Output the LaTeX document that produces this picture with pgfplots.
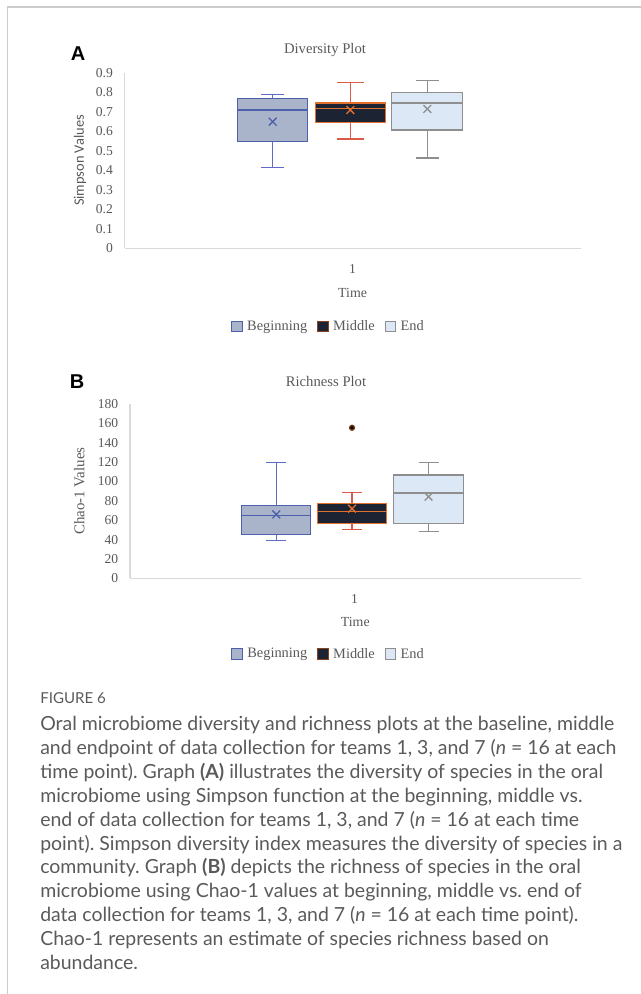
\documentclass[border=0pt]{standalone}
\usepackage{fontspec}
\usepackage{pgfplots}
\pgfplotsset{compat=1.18}
\usepgfplotslibrary{statistics}
\setmainfont{Liberation Serif}
\newfontfamily\capfont{Lato}
\newfontfamily\labsans{Carlito}
\newfontfamily\panelfont{Liberation Sans}
\definecolor{txt}{HTML}{595959}
\definecolor{capgray}{HTML}{5A5A5A}
\definecolor{framegray}{HTML}{CCCCCC}
\definecolor{axgray}{HTML}{D9D9D9}
\definecolor{begFill}{HTML}{A9B4CA}
\definecolor{begEdge}{HTML}{4C60AC}
\definecolor{begWh}{HTML}{5E6CC8}
\definecolor{midFill}{HTML}{1C2433}
\definecolor{midEdge}{HTML}{E2702E}
\definecolor{midWh}{HTML}{DC5A48}
\definecolor{endFill}{HTML}{DDE8F6}
\definecolor{endEdge}{HTML}{8E8E8E}
\pgfplotsset{
  sqlegend/.style={legend image code/.code={\draw[##1, line width=0.6pt] (0pt,-3.9pt) rectangle (7.8pt,3.9pt);}},
  common/.style={
    scale only axis,
    boxplot/draw direction=y,
    axis x line=bottom, axis y line=left,
    axis line style={-, draw=axgray, line width=0.8pt},
    xmin=0, ymin=0,
    major tick length=0pt,
    tick label style={font=\fontsize{10.2}{12}\selectfont, text=txt},
    /pgf/number format/assume math mode=true,
    yticklabel style={xshift=-5.3pt},
    xticklabel style={yshift=-8.5pt},
    xticklabels={1},
    sqlegend,
    legend columns=-1,
    legend style={draw=none, fill=none, anchor=center,
      font=\color{txt}\fontsize{10.8}{12}\selectfont,
      /tikz/every odd column/.append style={column sep=1.5pt},
      /tikz/every even column/.append style={column sep=5.5pt}},
  },
}
\frenchspacing
\begin{document}
\begin{tikzpicture}
\begin{scope}[x=0.75pt, y=-0.75pt]
\useasboundingbox (0,0) rectangle (641,994);
% frame
\draw[framegray, line width=0.9pt] (641,7) -- (7.5,7) -- (7.5,994);
% panel labels and titles
\node[font=\panelfont\bfseries\fontsize{15}{17}\selectfont] at (78,54) {A};
\node[font=\fontsize{11}{13}\selectfont, text=txt] at (325,50) {Diversity Plot};
\node[font=\panelfont\bfseries\fontsize{15}{17}\selectfont] at (77,382) {B};
\node[font=\fontsize{11}{13}\selectfont, text=txt] at (326,381) {Richness Plot};
\end{scope}

% ---------------- Panel A ----------------
\begin{axis}[common,
  at={(93.525pt,-186.225pt)}, anchor=south west,
  width=341.85pt, height=131.7pt,
  xmax=4.558, ymax=0.9,
  ytick={0,0.1,0.2,0.3,0.4,0.5,0.6,0.7,0.8,0.9},
  yticklabel style={/pgf/number format/fixed, /pgf/number format/precision=1},
  xtick={2.277},
  xlabel={Time},
  xlabel style={at={(axis description cs:0.5,0)}, anchor=center, yshift=-33.5pt,
    font=\fontsize{10.4}{12}\selectfont, text=txt},
  ylabel={Simpson Values},
  ylabel style={at={(axis description cs:-0.098,0.5)}, anchor=center,
    font=\labsans\fontsize{10.8}{12}\selectfont, text=txt},
  legend style={at={(0.448,0)}, yshift=-58.6pt},
]
\addlegendimage{draw=begEdge, fill=begFill}
\addlegendentry{Beginning}
\addlegendimage{draw=midEdge!60!black, fill=midFill}
\addlegendentry{Middle}
\addlegendimage{draw=endEdge, fill=endFill}
\addlegendentry{End}
\addplot[forget plot, draw=begEdge, fill=begFill, line width=1pt,
  boxplot prepared={lower whisker=0.413, lower quartile=0.546, median=0.709,
    upper quartile=0.769, upper whisker=0.787, draw position=1.48,
    box extend=0.70, whisker extend=0.23},
  boxplot/every whisker/.style={draw=begWh},
  boxplot/every median/.style={draw=begEdge}] coordinates {};
\addplot[forget plot, draw=midEdge, fill=midFill, line width=1pt,
  boxplot prepared={lower whisker=0.560, lower quartile=0.646, median=0.717,
    upper quartile=0.745, upper whisker=0.851, draw position=2.256,
    box extend=0.70, whisker extend=0.27},
  boxplot/every whisker/.style={draw=midWh},
  boxplot/every median/.style={draw=midEdge}] coordinates {};
\addplot[forget plot, draw=endEdge, fill=endFill, line width=1pt,
  boxplot prepared={lower whisker=0.463, lower quartile=0.606, median=0.745,
    upper quartile=0.797, upper whisker=0.861, draw position=3.026,
    box extend=0.71, whisker extend=0.23},
  boxplot/every whisker/.style={draw=endEdge},
  boxplot/every median/.style={draw=endEdge}] coordinates {};
\addplot[forget plot, only marks, mark=x, mark size=4.1pt, color=begEdge, line width=1pt] coordinates {(1.48,0.649)};
\addplot[forget plot, only marks, mark=x, mark size=4.1pt, color=midEdge, line width=1pt] coordinates {(2.256,0.709)};
\addplot[forget plot, only marks, mark=x, mark size=4.1pt, color=endEdge, line width=1pt] coordinates {(3.026,0.714)};
\end{axis}

% ---------------- Panel B ----------------
\begin{axis}[common,
  at={(97.5pt,-433.725pt)}, anchor=south west,
  width=337.9pt, height=130.7pt,
  xmax=4.505, ymax=180,
  ytick={0,20,40,60,80,100,120,140,160,180},
  xtick={2.245},
  xlabel={Time},
  xlabel style={at={(axis description cs:0.5,0)}, anchor=center, yshift=-32.5pt,
    font=\fontsize{10.4}{12}\selectfont, text=txt},
  ylabel={Chao-1 Values},
  ylabel style={at={(axis description cs:-0.1125,0.5)}, anchor=center,
    font=\fontsize{11.2}{13}\selectfont, text=txt},
  legend style={at={(0.4417,0)}, yshift=-56.8pt},
]
\addlegendimage{draw=begEdge, fill=begFill}
\addlegendentry{Beginning}
\addlegendimage{draw=midEdge!60!black, fill=midFill}
\addlegendentry{Middle}
\addlegendimage{draw=endEdge, fill=endFill}
\addlegendentry{End}
\addplot[forget plot, draw=begEdge, fill=begFill, line width=1pt,
  boxplot prepared={lower whisker=39.2, lower quartile=45.4, median=64.6,
    upper quartile=75.4, upper whisker=119.8, draw position=1.463,
    box extend=0.69, whisker extend=0.20},
  boxplot/every whisker/.style={draw=begWh},
  boxplot/every median/.style={draw=begEdge}] coordinates {};
\addplot[forget plot, draw=midEdge, fill=midFill, line width=1pt,
  mark=*, mark size=1.8pt, mark options={fill=black, draw=midEdge!50!black},
  boxplot prepared={lower whisker=50.2, lower quartile=56.8, median=68.8,
    upper quartile=77.0, upper whisker=88.8, draw position=2.22,
    box extend=0.69, whisker extend=0.20},
  boxplot/every whisker/.style={draw=midWh},
  boxplot/every median/.style={draw=midEdge}] table[row sep=\\, y index=0] {data\\ 155.5\\};
\addplot[forget plot, draw=endEdge, fill=endFill, line width=1pt,
  boxplot prepared={lower whisker=48.5, lower quartile=56.4, median=88.0,
    upper quartile=106.7, upper whisker=119.4, draw position=2.985,
    box extend=0.70, whisker extend=0.20},
  boxplot/every whisker/.style={draw=endEdge},
  boxplot/every median/.style={draw=endEdge}] coordinates {};
\addplot[forget plot, only marks, mark=x, mark size=4.1pt, color=begEdge, line width=1pt] coordinates {(1.463,66.0)};
\addplot[forget plot, only marks, mark=x, mark size=4.1pt, color=midEdge, line width=1pt] coordinates {(2.22,71.9)};
\addplot[forget plot, only marks, mark=x, mark size=4.1pt, color=endEdge, line width=1pt] coordinates {(2.985,84.3)};
\end{axis}

% ---------------- Caption ----------------
\begin{scope}[x=0.75pt, y=-0.75pt, every node/.style={anchor=base west, inner sep=0pt, text=capgray,
    font=\capfont\fontsize{14.6}{17}\selectfont}]
\node[font=\capfont\fontsize{11.3}{13}\selectfont] at (40,703.3) {FIGURE 6};
\node at (40,730.7) {Oral microbiome diversity and richness plots at the baseline, middle};
\node at (40,754.6) {and endpoint of data collection for teams 1, 3, and 7 (\textit{n} = 16 at each};
\node at (40,778.4) {time point). Graph \textbf{(A)} illustrates the diversity of species in the oral};
\node at (40,802.3) {microbiome using Simpson function at the beginning, middle vs.};
\node at (40,826.1) {end of data collection for teams 1, 3, and 7 (\textit{n} = 16 at each time};
\node at (40,850.0) {point). Simpson diversity index measures the diversity of species in a};
\node at (40,873.9) {community. Graph \textbf{(B)} depicts the richness of species in the oral};
\node at (40,897.7) {microbiome using Chao-1 values at beginning, middle vs. end of};
\node at (40,921.6) {data collection for teams 1, 3, and 7 (\textit{n} = 16 at each time point).};
\node at (40,945.4) {Chao-1 represents an estimate of species richness based on};
\node at (40,969.3) {abundance.};
\end{scope}
\end{tikzpicture}
\end{document}
